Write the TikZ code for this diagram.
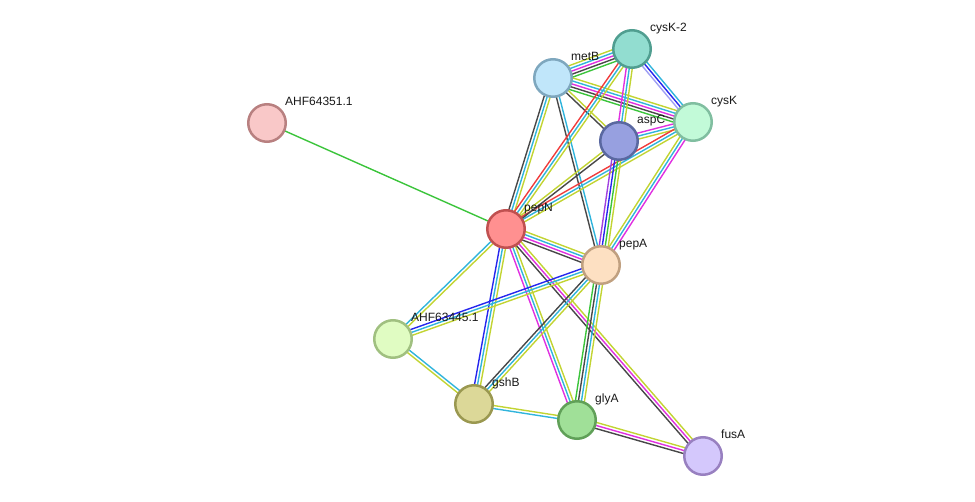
\documentclass[tikz,border=0pt]{standalone}
\usepackage{fontspec}
\setmainfont{Liberation Sans}
\usetikzlibrary{calc,backgrounds}
\definecolor{cNb}{HTML}{3BC43B}
\definecolor{cFu}{HTML}{F03C3C}
\definecolor{cCo}{HTML}{2626EE}
\definecolor{cCx}{HTML}{484848}
\definecolor{cEx}{HTML}{E030E0}
\definecolor{cDb}{HTML}{30B4DC}
\definecolor{cTm}{HTML}{C2D432}
\definecolor{cHo}{HTML}{A0A0F4}
\definecolor{cPu}{HTML}{A040E0}
\tikzset{
  prot/.style={circle, line width=2.5pt, minimum size=37.5pt, inner sep=0pt},
  lbl/.style={anchor=base west, inner sep=0pt, font=\fontsize{12pt}{14pt}\selectfont, text=black!90},
  eline/.style={line width=1.4pt},
}
\newcommand\multiedge[3]{%
  \foreach \cc [count=\ii] in {#3} {\xdef\nlines{\ii}}%
  \foreach \cc [count=\ii] in {#3} {%
    \pgfmathsetmacro\off{(\ii-(\nlines+1)/2)*3}%
    \draw[eline, \cc] ($(#1)!\off pt!90:(#2)$) -- ($(#2)!\off pt!-90:(#1)$);
  }%
}
\begin{document}
\begin{tikzpicture}[x=1pt,y=-1pt]
\useasboundingbox (0,0) rectangle (975,502);
% nodes
\node[prot, fill={rgb,255:red,249;green,200;blue,200}, draw={rgb,255:red,184;green,128;blue,128}] (ahf1) at (267,123) {};
\node[prot, fill={rgb,255:red,255;green,144;blue,144}, draw={rgb,255:red,192;green,80;blue,80}] (pepN) at (506,229) {};
\node[prot, fill={rgb,255:red,192;green,230;blue,250}, draw={rgb,255:red,126;green,167;blue,190}] (metB) at (553,78) {};
\node[prot, fill={rgb,255:red,146;green,221;blue,208}, draw={rgb,255:red,80;green,158;blue,144}] (cysK2) at (632,49) {};
\node[prot, fill={rgb,255:red,194;green,250;blue,216}, draw={rgb,255:red,128;green,190;blue,160}] (cysK) at (693,122) {};
\node[prot, fill={rgb,255:red,151;green,160;blue,224}, draw={rgb,255:red,90;green,104;blue,160}] (aspC) at (619,141) {};
\node[prot, fill={rgb,255:red,253;green,224;blue,194}, draw={rgb,255:red,192;green,160;blue,128}] (pepA) at (601,265) {};
\node[prot, fill={rgb,255:red,224;green,252;blue,194}, draw={rgb,255:red,160;green,192;blue,128}] (ahf2) at (393,339) {};
\node[prot, fill={rgb,255:red,220;green,216;blue,152}, draw={rgb,255:red,154;green,152;blue,80}] (gshB) at (474,404) {};
\node[prot, fill={rgb,255:red,160;green,224;blue,152}, draw={rgb,255:red,96;green,160;blue,88}] (glyA) at (577,420) {};
\node[prot, fill={rgb,255:red,212;green,200;blue,252}, draw={rgb,255:red,152;green,128;blue,192}] (fusA) at (703,456) {};
% labels
\node[lbl] (ahf1-l) at ($(ahf1)+(18,-17)$) {AHF64351.1};
\node[lbl] (pepN-l) at ($(pepN)+(18,-17)$) {pepN};
\node[lbl] (metB-l) at ($(metB)+(18,-17)$) {metB};
\node[lbl] (cysK2-l) at ($(cysK2)+(18,-17)$) {cysK-2};
\node[lbl] (cysK-l) at ($(cysK)+(18,-17)$) {cysK};
\node[lbl] (aspC-l) at ($(aspC)+(18,-17)$) {aspC};
\node[lbl] (pepA-l) at ($(pepA)+(18,-17)$) {pepA};
\node[lbl] (ahf2-l) at ($(ahf2)+(18,-17)$) {AHF63445.1};
\node[lbl] (gshB-l) at ($(gshB)+(18,-17)$) {gshB};
\node[lbl] (glyA-l) at ($(glyA)+(18,-17)$) {glyA};
\node[lbl] (fusA-l) at ($(fusA)+(18,-17)$) {fusA};
% edges
\begin{pgfonlayer}{background}
\multiedge{ahf1}{pepN}{cNb}
\multiedge{metB}{cysK2}{cNb,cCx,cEx,cDb,cTm}
\multiedge{metB}{cysK}{cNb,cCx,cEx,cDb,cTm}
\multiedge{metB}{aspC}{cCx,cTm}
\multiedge{metB}{pepN}{cCx,cDb,cTm}
\multiedge{metB}{pepA}{cCx,cDb}
\multiedge{cysK2}{cysK}{cHo,cCo,cDb}
\multiedge{cysK2}{aspC}{cEx,cDb,cTm}
\multiedge{cysK2}{pepN}{cFu,cDb,cTm}
\multiedge{cysK}{aspC}{cEx,cDb,cTm}
\multiedge{cysK}{pepN}{cFu,cDb,cTm}
\multiedge{cysK}{pepA}{cTm,cDb,cEx}
\multiedge{aspC}{pepN}{cTm,cCx}
\multiedge{aspC}{pepA}{cPu,cCo,cNb,cTm}
\multiedge{pepN}{pepA}{cCx,cEx,cDb,cTm}
\multiedge{pepN}{ahf2}{cDb,cTm}
\multiedge{pepN}{gshB}{cCo,cDb,cTm}
\multiedge{pepN}{glyA}{cEx,cDb,cTm}
\multiedge{pepN}{fusA}{cCx,cEx,cTm}
\multiedge{pepA}{ahf2}{cCo,cDb,cTm}
\multiedge{pepA}{gshB}{cCx,cDb,cTm}
\multiedge{pepA}{glyA}{cNb,cCx,cDb,cTm}
\multiedge{gshB}{ahf2}{cDb,cTm}
\multiedge{gshB}{glyA}{cDb,cTm}
\multiedge{glyA}{fusA}{cCx,cEx,cTm}
\end{pgfonlayer}
\end{tikzpicture}
\end{document}
